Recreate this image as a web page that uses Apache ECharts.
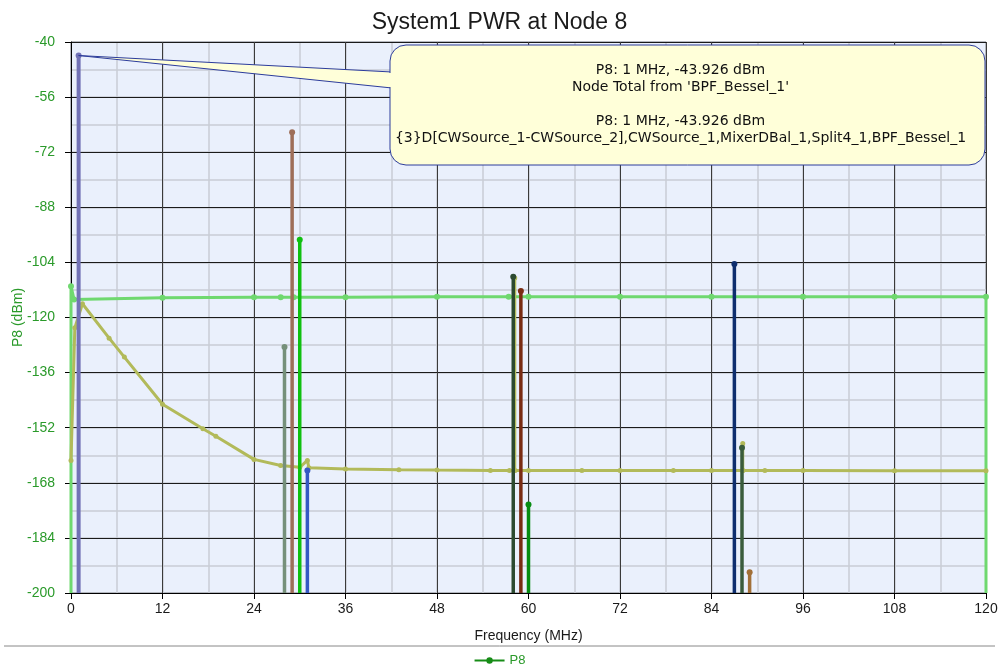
<!DOCTYPE html>
<html>
<head>
<meta charset="utf-8">
<style>
  html, body { margin: 0; padding: 0; background: #fff; }
  #main { width: 999px; height: 664px; }
</style>
<script src="https://cdn.jsdelivr.net/npm/echarts@6/dist/echarts.min.js"></script>
</head>
<body>
<div id="main"></div>
<script>
// discrete tones (MHz, dBm)
const toneFreqs = [1, 28, 29, 30, 31, 58, 59, 60, 87, 88, 89]
const toneLevels = [-43.926, -128.6, -66.2, -97.4, -164.4, -108.2, -112.3, -174.3, -104.5, -157.8, -194]
const toneColors = ['#7272b6', '#76907a', '#9e6e58', '#10c010', '#3458c4', '#2c4a30', '#7a2c12', '#088c12', '#0e2e6e', '#3a5c3c', '#a27038']

// node total (light green)
const totalFreqs = [0, 0, 0.4, 12, 24, 27.5, 29.2, 36, 48, 57.4, 60, 72, 84, 96, 108, 120, 120]
const totalLevels = [-200, -110.9, -114.8, -114.3, -114.1, -114.1, -114.1, -114.1, -114, -114, -114, -114, -114, -114, -114, -114, -200]

// noise floor (yellow-green)
const noiseFreqs = [0, 0.5, 1.5, 5, 7, 12, 17.3, 19, 24, 27.5, 30, 31, 31.2, 36, 43, 48, 55, 57.5, 58.2, 58.2, 58.2, 60, 67, 72, 79, 84, 88.1, 88.1, 88.1, 91, 96, 108, 120]
const noiseLevels = [-161.5, -123, -116, -126, -131.5, -145.2, -152.3, -154.5, -161.2, -163, -163.5, -161.5, -163.6, -164, -164.2, -164.3, -164.4, -164.4, -164.4, -108.5, -164.4, -164.4, -164.4, -164.4, -164.4, -164.4, -164.4, -156.6, -164.4, -164.4, -164.4, -164.5, -164.5]

const calloutLines = [
  'P8: 1 MHz, -43.926 dBm',
  "Node Total from 'BPF_Bessel_1'",
  '',
  'P8: 1 MHz, -43.926 dBm',
  '{3}D[CWSource_1-CWSource_2],CWSource_1,MixerDBal_1,Split4_1,BPF_Bessel_1'
]

const font = 'Liberation Sans, Arial, sans-serif'
const chart = echarts.init(document.getElementById('main'))

const series = []
series.push({
  name: 'total',
  type: 'line',
  data: totalFreqs.map((f, i) => {
    const item = { value: [f, totalLevels[i]] }
    if (totalLevels[i] <= -200) item.symbol = 'none'
    return item
  }),
  symbol: 'circle',
  symbolSize: 6,
  lineStyle: { color: '#6fd86f', width: 3 },
  itemStyle: { color: '#6fd86f' },
  animation: false,
  z: 2
})
series.push({
  name: 'noise',
  type: 'line',
  data: noiseFreqs.map((f, i) => [f, noiseLevels[i]]),
  symbol: 'circle',
  symbolSize: 5,
  lineStyle: { color: '#b2ba5a', width: 3 },
  itemStyle: { color: '#b2ba5a' },
  animation: false,
  z: 3
})
toneFreqs.forEach((f, i) => {
  series.push({
    name: 'tone' + i,
    type: 'line',
    data: [{ value: [f, -200], symbol: 'none' }, { value: [f, toneLevels[i]] }],
    symbol: 'circle',
    symbolSize: 6,
    lineStyle: { color: toneColors[i], width: i === 0 ? 4 : 3.5 },
    itemStyle: { color: toneColors[i] },
    animation: false,
    z: 4
  })
})
// legend entry only
series.push({
  name: 'P8',
  type: 'line',
  data: [],
  symbol: 'circle',
  lineStyle: { color: '#178c17', width: 3 },
  itemStyle: { color: '#178c17' }
})

// minor grid drawn by a second, label-less pair of axes
const minorAxis = {
  axisLine: { show: false },
  axisTick: { show: false },
  axisLabel: { show: false },
  splitLine: { show: true, lineStyle: { color: '#c8ccd6', width: 1.5 } },
  z: 0
}

chart.setOption({
  animation: false,
  backgroundColor: '#ffffff',
  title: {
    text: 'System1 PWR at Node 8',
    left: 'center',
    top: 6,
    textStyle: { fontFamily: font, fontSize: 23, fontWeight: 'normal', color: '#1a1a1a' }
  },
  legend: {
    data: ['P8'],
    left: 'center',
    top: 649,
    itemWidth: 30,
    itemHeight: 8,
    itemGap: 5,
    textStyle: { fontFamily: font, fontSize: 13, color: '#2a9a2a' }
  },
  grid: {
    left: 71,
    right: 13,
    top: 42,
    bottom: 71,
    outerBoundsMode: 'none',
    containLabel: false,
    show: true,
    backgroundColor: '#eaf0fc',
    borderColor: '#000',
    borderWidth: 1
  },
  xAxis: [{
    type: 'value',
    min: 0,
    max: 120,
    interval: 12,
    name: 'Frequency (MHz)',
    nameLocation: 'middle',
    nameGap: 36,
    nameMoveOverlap: false,
    nameTextStyle: { fontFamily: font, fontSize: 14, color: '#1a1a1a' },
    axisLine: { lineStyle: { color: '#000' } },
    axisTick: { show: true, length: 6, lineStyle: { color: '#000' } },
    axisLabel: { fontFamily: font, fontSize: 14, color: '#1a1a1a', margin: 9 },
    splitLine: { show: true, lineStyle: { color: '#3a3a3a', width: 1 } },
    z: 1
  }, Object.assign({ type: 'value', min: 0, max: 120, interval: 6, position: 'top' }, minorAxis)],
  yAxis: [{
    type: 'value',
    min: -200,
    max: -40,
    interval: 16,
    name: 'P8 (dBm)',
    nameLocation: 'middle',
    nameGap: 46,
    nameMoveOverlap: false,
    nameTextStyle: { fontFamily: font, fontSize: 14, color: '#2a9a2a' },
    axisLine: { show: true, lineStyle: { color: '#000' } },
    axisTick: { show: true, length: 6, lineStyle: { color: '#000' } },
    axisLabel: { fontFamily: font, fontSize: 14, color: '#2a9a2a', margin: 16 },
    splitLine: { show: true, lineStyle: { color: '#1a1a1a', width: 1 } },
    z: 1
  }, Object.assign({ type: 'value', min: -200, max: -40, interval: 8, position: 'right' }, minorAxis)],
  series: series
})

// callout anchored to the 1 MHz tone
const anchor = chart.convertToPixel({ gridIndex: 0 }, [toneFreqs[0], toneLevels[0]])
const box = { x: 390, y: 45, w: 595, h: 120 }
const boxFill = '#ffffd9'
const boxStroke = '#2c3c9c'
chart.setOption({
  graphic: [
    {
      type: 'polygon',
      z: 100,
      shape: { points: [anchor, [box.x + 2, 72], [box.x + 2, 88]] },
      style: { fill: boxFill, stroke: boxStroke, lineWidth: 1 }
    },
    {
      type: 'rect',
      z: 100,
      shape: { x: box.x, y: box.y, width: box.w, height: box.h, r: 16 },
      style: { fill: boxFill, stroke: boxStroke, lineWidth: 1 }
    },
    {
      type: 'rect',
      z: 101,
      shape: { x: box.x - 1, y: 73, width: 5, height: 14 },
      style: { fill: boxFill }
    },
    {
      type: 'text',
      z: 102,
      x: box.x + box.w / 2 - 7,
      y: 62,
      style: {
        text: calloutLines.join('\n'),
        fontFamily: 'DejaVu Sans, sans-serif',
        fontSize: 14,
        lineHeight: 17,
        fill: '#111',
        align: 'center',
        verticalAlign: 'top'
      }
    },
    {
      type: 'line',
      z: 100,
      shape: { x1: 4, y1: 646, x2: 995, y2: 646 },
      style: { stroke: '#888', lineWidth: 1 }
    }
  ]
})
</script>
</body>
</html>
